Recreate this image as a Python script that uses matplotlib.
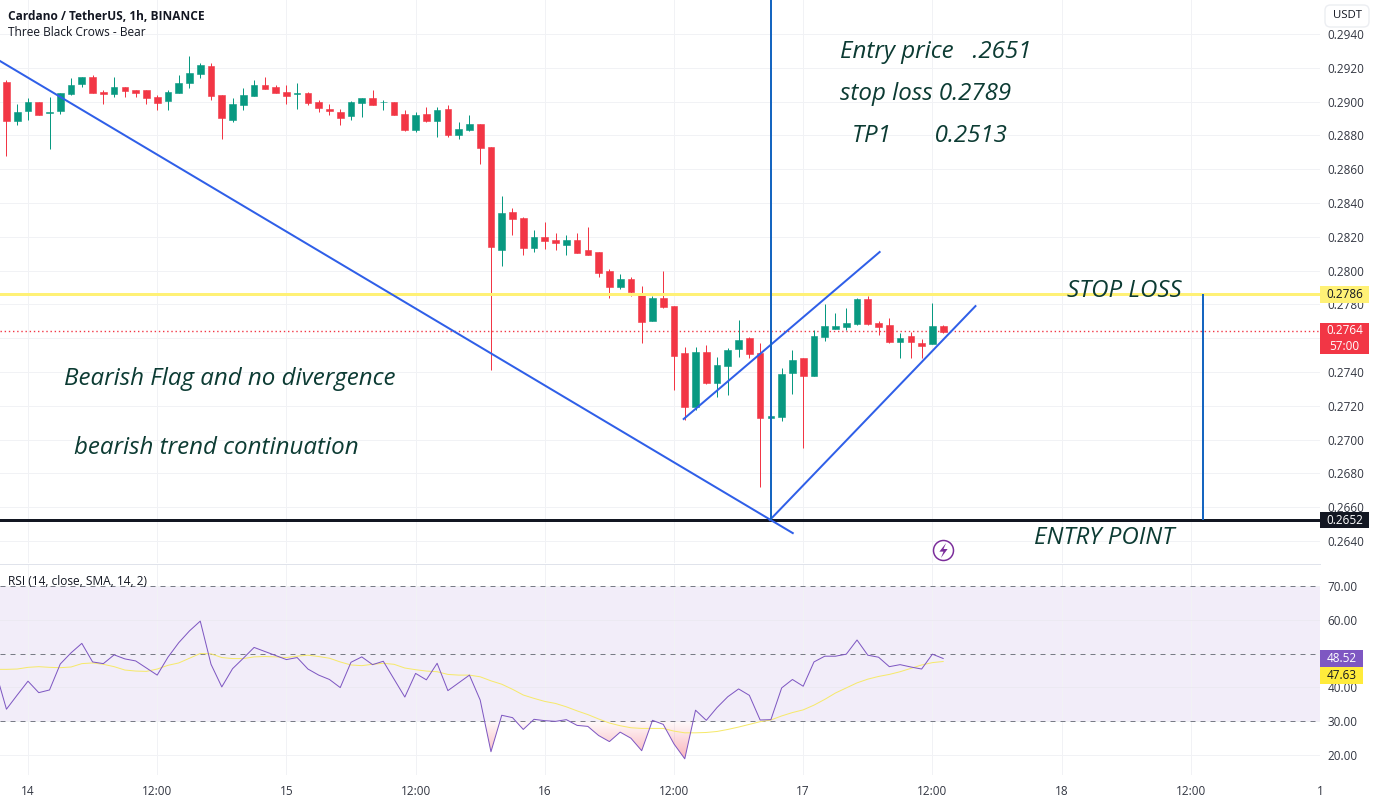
import numpy as np
import matplotlib
matplotlib.use("Agg")
import matplotlib.pyplot as plt
from matplotlib.patches import Rectangle, FancyBboxPatch
from matplotlib.path import Path

W, H = 1374, 805
PLOT_W = 1320

hours = list(range(-2, 86))
opens = [.29116,.28885,.28944,.28997,.28934,.28944,.29045,.29104,.29145,.29058,.29045,.29086,.29068,.29068,.29027,.29003,.29050,.29110,.29163,.29210,.29039,.28891,.28979,.29033,.29098,.29086,.29056,.29047,.29050,.28997,.28956,.28938,.28914,.28991,.29021,.28995,.28997,.28926,.28832,.28926,.28885,.28956,.28802,.28832,.28867,
         .28731,.28122,.28347,.28311,.28134,.28199,.28181,.28152,.28181,.28122,.28110,.27998,.27903,.27951,.27868,.27702,.27838,.27791,.27513,.27193,.27519,.27335,.27436,.27536,.27601,.27512,.27130,.27134,.27394,.27483,.27376,.27607,.27654,.27666,.27684,.27832,.27690,.27678,.27577,.27613,.27571,.27565,.27672]
highs = [.29127,.28985,.29021,.28997,.29027,.29052,.29139,.29147,.29157,.29068,.29145,.29086,.29068,.29068,.29039,.29068,.29157,.29269,.29226,.29228,.29039,.29021,.29080,.29127,.29145,.29098,.29098,.29112,.29056,.29009,.28985,.28956,.29003,.29021,.29068,.29009,.28997,.28950,.28938,.28970,.28968,.28977,.28879,.28920,.28867,
         .28731,.28442,.28371,.28317,.28240,.28288,.28223,.28211,.28223,.28258,.28110,.28010,.27980,.27962,.27909,.27850,.27998,.27791,.27548,.27548,.27560,.27489,.27542,.27707,.27607,.27571,.27139,.27423,.27530,.27483,.27648,.27802,.27749,.27778,.27838,.27849,.27701,.27719,.27630,.27636,.27595,.27808,.27678]
lows = [.28678,.28861,.28891,.28920,.28719,.28926,.29039,.29088,.29050,.28985,.29027,.29027,.29027,.28985,.28950,.28950,.29050,.29080,.29139,.29009,.28778,.28879,.28950,.29033,.29074,.29050,.28985,.28956,.28979,.28938,.28920,.28861,.28891,.28908,.28979,.28950,.28920,.28826,.28822,.28879,.28790,.28790,.28778,.28826,.28630,
        .27412,.28027,.28211,.28092,.28110,.28128,.28122,.28092,.28104,.28092,.27962,.27838,.27891,.27850,.27572,.27702,.27779,.27294,.27116,.27176,.27329,.27252,.27264,.27488,.27483,.26719,.27128,.27110,.27270,.26950,.27376,.27583,.27654,.27648,.27678,.27678,.27619,.27571,.27483,.27483,.27483,.27565,.27630]
closes = [.28887,.28938,.28997,.28920,.28938,.29050,.29098,.29145,.29050,.29045,.29086,.29062,.29050,.29021,.28991,.29056,.29110,.29169,.29216,.29033,.28903,.28985,.29039,.29098,.29074,.29050,.29033,.29050,.28991,.28962,.28944,.28903,.28997,.29021,.28979,.28999,.28920,.28832,.28920,.28885,.28950,.28802,.28837,.28867,.28725,
          .28138,.28341,.28305,.28134,.28199,.28175,.28163,.28181,.28104,.28092,.27986,.27903,.27951,.27874,.27696,.27838,.27785,.27495,.27193,.27519,.27335,.27442,.27530,.27589,.27506,.27128,.27137,.27388,.27471,.27376,.27613,.27672,.27672,.27690,.27832,.27684,.27666,.27577,.27601,.27577,.27554,.27672,.27636]

rsi_hours = list(range(-3, 86))
rsi = [44.6,33.5,37.7,41.8,38.4,39.2,46.9,50.2,53.0,47.5,47.0,49.6,48.4,47.8,45.7,43.6,48.9,53.2,56.7,59.6,46.8,40.1,45.5,48.6,51.8,50.6,49.4,48.2,48.8,45.4,43.6,42.3,39.9,47.4,49.0,46.7,47.7,42.4,37.1,44.1,42.2,47.1,39.0,41.3,43.6,36.2,
       20.9,31.7,31.0,27.5,30.5,30.1,29.9,30.4,28.7,28.4,25.7,23.9,26.7,24.9,21.2,30.2,29.0,23.2,18.8,33.2,30.2,34.0,37.2,39.5,37.6,30.3,30.4,39.8,42.3,40.3,47.5,49.2,49.2,49.8,54.0,49.5,48.9,46.1,46.7,46.0,45.4,49.8,48.52]
rsi_ma = [45.3,45.3,45.4,45.9,46.1,45.9,45.8,46.0,47.0,47.2,46.8,46.1,45.1,44.8,44.7,45.4,46.5,47.2,48.6,50.0,49.9,48.8,48.5,48.5,49.0,49.1,49.0,48.8,49.2,49.5,49.1,48.6,47.5,46.6,46.4,46.8,47.1,46.8,45.7,45.2,44.8,44.6,43.8,43.6,43.6,43.1,
          41.9,40.9,39.4,37.7,36.7,35.8,35.2,34.2,33.0,31.9,30.6,29.4,28.6,28.0,27.8,27.8,27.8,27.0,26.5,26.5,26.6,26.9,27.5,28.2,29.0,29.8,30.3,31.5,32.5,33.3,34.7,36.4,38.3,39.8,41.3,42.4,43.2,43.8,44.6,45.6,46.6,47.3,47.63]

x_ticks = [0, 12, 24, 36, 48, 60, 72, 84, 96, 108, 120]
x_tick_labels = ["14", "12:00", "15", "12:00", "16", "12:00", "17", "12:00", "18", "12:00", "1"]
price_ticks = [.2640,.2660,.2680,.2700,.2720,.2740,.2760,.2780,.2800,.2820,.2840,.2860,.2880,.2900,.2920,.2940]
rsi_ticks = [20, 30, 40, 50, 60, 70]

stop_price = 0.27862
entry_price = 0.26527
last_price = 0.2764
main_trend_x, main_trend_y = [-2.6, 71.03], [.29240, .26447]
flag_top_x, flag_top_y = [60.9, 79.1], [.27122, .28110]
flag_bot_x, flag_bot_y = [68.9, 88.0], [.26524, .27790]
v1_hour = 69.0
v2_hour = 109.1
icon_hour, icon_price = 85, .26347

GREEN, RED = "#089981", "#f23645"
GRID = "#f1f2f5"
NOTE = "#0c3b33"
UI = ["Open Sans", "DejaVu Sans"]
px = 0.72

fig = plt.figure(figsize=(W / 100, H / 100), dpi=100, facecolor="white")
ax = fig.add_axes([0, (H - 563) / H, PLOT_W / W, 563 / H])
ar = fig.add_axes([0, (H - 775) / H, PLOT_W / W, (775 - 564) / H])

xlim = (-2.6, 120.0)
ax.set_xlim(*xlim)
ax.set_ylim(0.26270, 0.29601)
ar.set_xlim(*xlim)
ar.set_ylim(14.0, 76.52)

for a in (ax, ar):
    for s in a.spines.values():
        s.set_visible(False)
    a.set_xticks(x_ticks)
    a.grid(True, color=GRID, lw=1 * px, zorder=0)
    a.set_axisbelow(True)
    a.yaxis.tick_right()
    a.tick_params(axis="y", length=0, pad=5.5, labelsize=8.5, labelcolor="#333742")
    a.tick_params(axis="x", length=0)
ax.set_xticklabels([])
ar.set_xticklabels(x_tick_labels, fontsize=8.5, color="#333742", family=UI)
ar.tick_params(axis="x", pad=7)
ax.set_yticks(price_ticks)
ax.set_yticklabels([f"{p:.4f}" for p in price_ticks], family=UI)
ar.set_yticks(rsi_ticks)
ar.set_yticklabels([f"{v:.2f}" for v in rsi_ticks], family=UI)

# separator between panes
fig.add_artist(plt.Line2D([0, PLOT_W / W], [(H - 563.5) / H] * 2, color="#e0e3eb", lw=1 * px))

# price pane
ax.axhline(last_price, color=RED, lw=1.0, ls=(0, (1, 2)), zorder=1)
for h, o, hi, lo, c in zip(hours, opens, highs, lows, closes):
    col = GREEN if c >= o else RED
    ax.vlines(h, lo, hi, color=col, lw=1 * px, zorder=2)
    ax.bar(h, abs(c - o), bottom=min(o, c), width=0.62, color=col, edgecolor=col, lw=0.4, zorder=3)

ax.axhline(stop_price, color="#fff176", lw=3 * px, zorder=4)
ax.axhline(entry_price, color="#131722", lw=3 * px, zorder=4)
BLUE = "#2f5fe8"
ax.plot(main_trend_x, main_trend_y, color=BLUE, lw=2 * px, zorder=5)
ax.plot(flag_top_x, flag_top_y, color=BLUE, lw=2 * px, zorder=5)
ax.plot(flag_bot_x, flag_bot_y, color=BLUE, lw=2 * px, zorder=5)
ax.vlines(v1_hour, entry_price, 0.29601, color="#1565c0", lw=2 * px, zorder=5)
ax.vlines(v2_hour, entry_price, stop_price, color="#1565c0", lw=2 * px, zorder=5)

# lightning icon
bolt = Path([(0.35, 1.0), (-0.55, -0.15), (0.0, -0.15), (-0.35, -1.0), (0.55, 0.2), (0.0, 0.2), (0.35, 1.0)], closed=True)
ax.plot([icon_hour], [icon_price], marker="o", ms=20 * px, mfc="white", mec="#7b2d9b", mew=1.5 * px, zorder=6)
ax.plot([icon_hour], [icon_price], marker=bolt, ms=15 * px, mfc="#7b2d9b", mec="#7b2d9b", mew=0, zorder=7)

# RSI pane
ar.axhspan(30, 70, color="#f2edf9", lw=0, zorder=0.5)
for lvl in (60, 40):
    ar.axhline(lvl, color="#ece9f2", lw=1 * px, zorder=0.6)
for lvl in (70, 50, 30):
    ar.axhline(lvl, color="#787b86", lw=1 * px, ls=(0, (5, 5)), zorder=1)

rx, ry = np.array(rsi_hours, float), np.array(rsi, float)
# vertical fade: nearly clear at the 30 level, strongest near the lowest RSI value
rgba = np.zeros((64, 1, 4))
rgba[..., 0], rgba[..., 1], rgba[..., 2] = 0.95, 0.30, 0.38
rgba[..., 3] = np.linspace(0.03, 0.42, 64).reshape(-1, 1)
im = ar.imshow(rgba, extent=[xlim[0], xlim[1], 18.8, 30], origin="upper", aspect="auto", zorder=1.5)
im.set_data(rgba)
clip = ar.fill_between(rx, ry, 30, where=ry < 30, interpolate=True, color="none", lw=0)
im.set_clip_path(Path.make_compound_path(*clip.get_paths()), transform=ar.transData)
ar.set_xlim(*xlim)
ar.set_ylim(14.0, 76.52)
ar.plot(rsi_hours, rsi_ma, color="#f6e96b", lw=1 * px, zorder=3)
ar.plot(rsi_hours, rsi, color="#7e57c2", lw=1 * px, zorder=4)


def t(x, y, s, **kw):
    return fig.text(x / W, (H - y) / H, s, zorder=10, **kw)


def box(x0, y0, x1, y1, color):
    fig.add_artist(Rectangle((x0 / W, (H - y1) / H), (x1 - x0) / W, (y1 - y0) / H,
                             transform=fig.transFigure, fc=color, ec="none", zorder=9))


# header and legend
t(8, 16, "Cardano / TetherUS, 1h, BINANCE", family=UI, fontsize=8.6, fontweight="bold", color="#131722", va="center")
t(8, 33, "Three Black Crows - Bear", family=UI, fontsize=8.6, color="#131722", va="center")
t(8, 581, "RSI (14, close, SMA, 14, 2)", family=UI, fontsize=8.6, color="#131722", va="center")

# price scale tags
box(1320, 286, 1369, 303, "#fff176")
t(1344.5, 294.5, "0.2786", family=UI, fontsize=8.5, color="#131722", ha="center", va="center")
box(1320, 323, 1369, 354, RED)
t(1344.5, 330.5, "0.2764", family=UI, fontsize=8.5, color="white", ha="center", va="center")
t(1344.5, 346, "57:00", family=UI, fontsize=8.5, color="white", ha="center", va="center")
box(1320, 512, 1369, 528, "#131722")
t(1344.5, 520, "0.2652", family=UI, fontsize=8.5, color="white", ha="center", va="center")
box(1320, 650, 1363, 667, "#7e57c2")
t(1341.5, 658.5, "48.52", family=UI, fontsize=8.5, color="white", ha="center", va="center")
box(1320, 667, 1363, 684, "#ffeb3b")
t(1341.5, 675.5, "47.63", family=UI, fontsize=8.5, color="#131722", ha="center", va="center")

# USDT button
fig.add_artist(FancyBboxPatch((1325 / W, (H - 27) / H), 44 / W, 22 / H, boxstyle="round,pad=0,rounding_size=0.004",
                              mutation_aspect=W / H, transform=fig.transFigure, fc="white", ec="#eceef2", lw=1, zorder=9))
t(1347, 16, "USDT", family=UI, fontsize=8.2, color="#131722", ha="center", va="center")

# hand-written notes
note = dict(family="Open Sans", style="italic", fontsize=17.4, color=NOTE, va="center")
t(840, 52, "Entry price   .2651", **note)
t(840, 94, "stop loss 0.2789", **note)
t(852, 136, "TP1       0.2513", **note)
t(64, 379, "Bearish Flag and no divergence", **note)
t(74, 448, "bearish trend continuation", **note)
t(1067, 291, "STOP LOSS", **note)
t(1034, 538, "ENTRY POINT", **note)

fig.savefig("out.png", dpi=100)
